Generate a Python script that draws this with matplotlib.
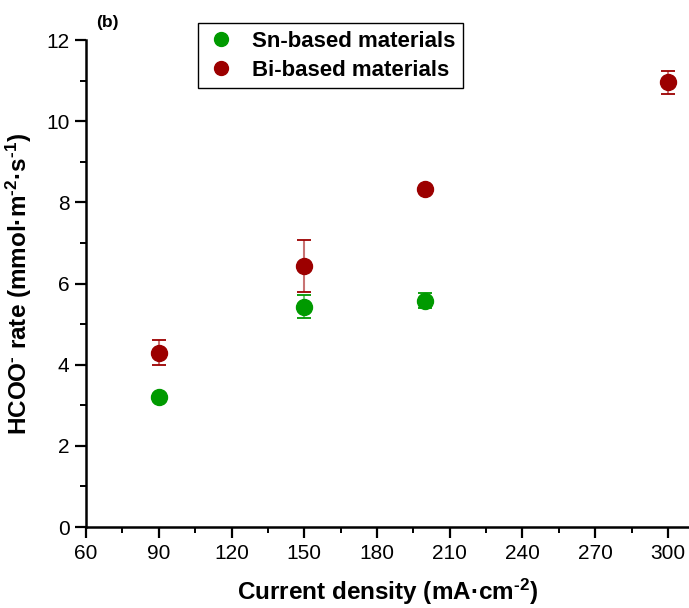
import matplotlib
matplotlib.use("Agg")
import matplotlib.pyplot as plt
from matplotlib.lines import Line2D
from matplotlib.ticker import MultipleLocator

plt.rcParams["font.family"] = ["Liberation Sans", "DejaVu Sans"]
plt.rcParams["mathtext.fontset"] = "custom"
plt.rcParams["mathtext.rm"] = "Liberation Sans:bold"
plt.rcParams["mathtext.bf"] = "Liberation Sans:bold"
plt.rcParams["mathtext.default"] = "bf"

# 数据
sn_x = [90, 150, 200]
sn_y = [3.20, 5.43, 5.58]
sn_err = [0.05, 0.28, 0.18]

bi_x = [90, 150, 200, 300]
bi_y = [4.29, 6.44, 8.32, 10.96]
bi_err = [0.31, 0.64, 0.08, 0.28]

GREEN = "#009a00"
RED = "#9c0000"

fig = plt.figure(figsize=(6.89, 6.08), dpi=100)
ax = fig.add_axes([0.125, 0.1332, 0.875, 0.801])

ax.errorbar(sn_x, sn_y, yerr=sn_err, fmt="o", color=GREEN, ms=11.5,
            ecolor=GREEN, elinewidth=1.5, capsize=5, capthick=1.3, zorder=3)
ax.errorbar(bi_x, bi_y, yerr=bi_err, fmt="o", color=RED, ms=11.5,
            ecolor=RED, elinewidth=1.5, capsize=5, capthick=1.3, zorder=3)
for cont in ax.containers:
    for ln in cont[2]:
        ln.set_alpha(0.55)

ax.set_xlim(60, 308.7)
ax.set_ylim(0, 12)
ax.xaxis.set_major_locator(MultipleLocator(30))
ax.xaxis.set_minor_locator(MultipleLocator(15))
ax.yaxis.set_major_locator(MultipleLocator(2))
ax.yaxis.set_minor_locator(MultipleLocator(1))

for s in ["top", "right"]:
    ax.spines[s].set_visible(False)
for s in ["left", "bottom"]:
    ax.spines[s].set_linewidth(1.8)
ax.tick_params(which="major", direction="out", length=8, width=1.6, labelsize=15, pad=4)
ax.tick_params(which="minor", direction="out", length=4.5, width=1.4)

ax.set_xlabel(r"Current density (mA·cm$^{\text{-2}}$)", fontsize=17.5, fontweight="bold", labelpad=10)
ax.set_ylabel(r"HCOO$^{\text{-}}$ rate (mmol·m$^{\text{-2}}$·s$^{\text{-1}}$)", fontsize=17.5,
              fontweight="bold", labelpad=9)

fig.text(0.14, 0.955, "(b)", fontsize=12.5, fontweight="bold")

handles = [
    Line2D([], [], ls="none", marker="o", color=GREEN, ms=10),
    Line2D([], [], ls="none", marker="o", color=RED, ms=10),
]
leg = ax.legend(handles, ["Sn-based materials", "Bi-based materials"],
                loc="upper left", bbox_to_anchor=(0.287, 0.962), bbox_transform=fig.transFigure,
                borderaxespad=0, fancybox=False, framealpha=1, edgecolor="black", borderpad=0.35,
                handletextpad=0.7, labelspacing=0.35, handlelength=1.4,
                prop={"weight": "bold", "size": 16})
leg.get_frame().set_linewidth(1.0)

fig.savefig("out.png", dpi=100)
